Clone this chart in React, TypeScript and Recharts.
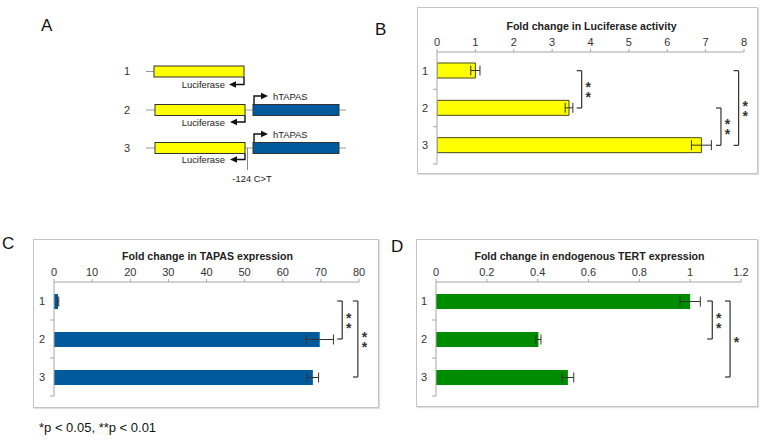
import { BarChart, Bar, XAxis, YAxis, ErrorBar, ReferenceLine } from 'recharts';

const rows = ['1', '2', '3'];

// B: luciferase reporter activity
const lucValues = [1, 3.44, 6.89];
const lucErrors = [0.12, 0.1, 0.26];
const lucTicks = [0, 1, 2, 3, 4, 5, 6, 7, 8];
const lucBrackets = [
  { at: 3.77, from: '1', to: '2', mark: '**' },
  { at: 7.4, from: '2', to: '3', mark: '**' },
  { at: 7.86, from: '1', to: '3', mark: '**' },
];

// C: TAPAS expression
const tapasValues = [1.05, 69.7, 67.9];
const tapasErrors = [0.2, 3.6, 1.5];
const tapasTicks = [0, 10, 20, 30, 40, 50, 60, 70, 80];
const tapasBrackets = [
  { at: 75.6, from: '1', to: '2', mark: '**' },
  { at: 79.7, from: '1', to: '3', mark: '**' },
];

// D: endogenous TERT expression
const tertValues = [1.0, 0.403, 0.519];
const tertErrors = [0.04, 0.01, 0.023];
const tertTicks = [0, 0.2, 0.4, 0.6, 0.8, 1, 1.2];
const tertBrackets = [
  { at: 1.087, from: '1', to: '2', mark: '**' },
  { at: 1.157, from: '1', to: '3', mark: '*' },
];

const FONT = '"Liberation Sans", Arial, sans-serif';
const AXIS = '#a6a6a6';
const INK = '#333';

type Bracket = { at: number; from: string; to: string; mark: string };

type PanelProps = {
  box: { left: number; top: number; width: number; height: number };
  plot: { x0: number; x1: number; y0: number; y1: number };
  title: string;
  values: number[];
  errors: number[];
  ticks: number[];
  fill: string;
  stroke?: string;
  brackets: Bracket[];
  cap: number;
};

// significance stars stacked vertically beside a bracket
function Stars({ viewBox, mark }: any) {
  const cx = viewBox.x + 6.5;
  const cy = viewBox.y + viewBox.height / 2;
  const fs = 14;
  const chars = mark.split('');
  const step = 10;
  const start = cy - ((chars.length - 1) * step) / 2 + fs * 0.55;
  return (
    <text textAnchor="middle" fontSize={fs} fontWeight="bold" fill={INK} fontFamily={FONT}>
      {chars.map((c: string, i: number) => (
        <tspan key={i} x={cx} y={start + i * step}>
          {c}
        </tspan>
      ))}
    </text>
  );
}

function Panel({ box, plot, title, values, errors, ticks, fill, stroke, brackets, cap }: PanelProps) {
  const data = rows.map((name, i) => ({ name, value: values[i], err: errors[i] }));
  const axisH = 30;
  const band = (plot.y1 - plot.y0) / rows.length;
  const margin = {
    top: plot.y0 - box.top - axisH,
    right: box.left + box.width - plot.x1,
    bottom: box.top + box.height - plot.y1,
    left: 0,
  };

  const RowTick = (p: any) => (
    <g>
      <text x={p.x} y={p.y} dy={4} textAnchor="end" fontSize={11} fill={INK} fontFamily={FONT}>
        {p.payload.value}
      </text>
      <line x1={p.x + 5} x2={p.x + 9} y1={p.y + band / 2} y2={p.y + band / 2} stroke={AXIS} />
    </g>
  );

  return (
    <div
      style={{
        position: 'absolute',
        left: box.left,
        top: box.top,
        width: box.width,
        height: box.height,
        boxSizing: 'border-box',
        border: '1px solid #c4c4c4',
        boxShadow: '1px 1px 1px #e0e0e0',
      }}
    >
      <div
        style={{
          position: 'absolute',
          left: plot.x0 - box.left - 40,
          width: plot.x1 - plot.x0 + 80,
          top: plot.y0 - box.top - 27 - 8,
          lineHeight: '16px',
          textAlign: 'center',
          fontFamily: FONT,
          fontWeight: 'bold',
          fontSize: 10.6,
          color: '#222',
        }}
      >
        {title}
      </div>
      <div style={{ position: 'absolute', left: -1, top: -1 }}>
        <BarChart width={box.width} height={box.height} data={data} layout="vertical" margin={margin}>
          <XAxis
            type="number"
            orientation="top"
            domain={[ticks[0], ticks[ticks.length - 1]]}
            ticks={ticks}
            height={axisH}
            interval={0}
            tickSize={3}
            tickMargin={3}
            stroke={AXIS}
            tick={{ fontSize: 11, fill: INK, fontFamily: FONT }}
            allowDataOverflow
          />
          <YAxis
            type="category"
            dataKey="name"
            width={plot.x0 - box.left}
            tickSize={0}
            tickMargin={9}
            stroke={AXIS}
            tick={RowTick}
          />
          <Bar dataKey="value" fill={fill} stroke={stroke} strokeWidth={stroke ? 1 : 0} barSize={15} isAnimationActive={false}>
            <ErrorBar dataKey="err" direction="x" width={5} stroke={INK} strokeWidth={1} />
          </Bar>
          {brackets.map((b, i) => (
            <ReferenceLine
              key={`v${i}`}
              segment={[
                { x: b.at, y: b.from },
                { x: b.at, y: b.to },
              ]}
              stroke={INK}
              strokeWidth={1.2}
              label={(p: any) => <Stars {...p} mark={b.mark} />}
            />
          ))}
          {brackets.map((b, i) => (
            <ReferenceLine
              key={`t${i}a`}
              segment={[
                { x: b.at - cap, y: b.from },
                { x: b.at, y: b.from },
              ]}
              stroke={INK}
              strokeWidth={1.2}
            />
          ))}
          {brackets.map((b, i) => (
            <ReferenceLine
              key={`t${i}b`}
              segment={[
                { x: b.at - cap, y: b.to },
                { x: b.at, y: b.to },
              ]}
              stroke={INK}
              strokeWidth={1.2}
            />
          ))}
        </BarChart>
      </div>
    </div>
  );
}

function LeftArrow({ x, yTop, yArrow }: { x: number; yTop: number; yArrow: number }) {
  return (
    <g>
      <path d={`M${x},${yTop} L${x},${yArrow} L${x - 9},${yArrow}`} stroke="#111" strokeWidth={1.4} fill="none" />
      <polygon points={`${x - 15},${yArrow} ${x - 8},${yArrow - 3.2} ${x - 8},${yArrow + 3.2}`} fill="#111" />
    </g>
  );
}

function RightArrow({ x, yBottom, yArrow }: { x: number; yBottom: number; yArrow: number }) {
  return (
    <g>
      <path d={`M${x},${yBottom} L${x},${yArrow} L${x + 8},${yArrow}`} stroke="#111" strokeWidth={1.4} fill="none" />
      <polygon points={`${x + 14},${yArrow} ${x + 7},${yArrow - 3.2} ${x + 7},${yArrow + 3.2}`} fill="#111" />
    </g>
  );
}

function Schematic() {
  const yellow = '#ffff00';
  const blue = '#005a9c';
  const txt = { fontFamily: FONT, fontSize: 9.4, fill: '#222' };
  return (
    <svg width={390} height={200} style={{ position: 'absolute', left: 0, top: 0 }}>
      {/* row 1 */}
      <text x={127} y={75} textAnchor="middle" fontSize={11} fill={INK} fontFamily={FONT}>1</text>
      <line x1={146} x2={154} y1={71.5} y2={71.5} stroke="#999" />
      <rect x={154} y={66} width={90} height={11} fill={yellow} stroke={INK} />
      <LeftArrow x={244} yTop={77} yArrow={84.5} />
      <text x={225} y={88} textAnchor="end" {...txt}>Luciferase</text>

      {/* row 2 */}
      <text x={127} y={114} textAnchor="middle" fontSize={11} fill={INK} fontFamily={FONT}>2</text>
      <line x1={146} x2={346} y1={110} y2={110} stroke="#999" />
      <rect x={155} y={104.5} width={90} height={11} fill={yellow} stroke={INK} />
      <rect x={253} y={104.5} width={86} height={11} fill={blue} stroke={INK} />
      <RightArrow x={254} yBottom={104.5} yArrow={96} />
      <text x={273} y={99.5} {...txt}>hTAPAS</text>
      <LeftArrow x={245} yTop={115.5} yArrow={122} />
      <text x={225} y={125.5} textAnchor="end" {...txt}>Luciferase</text>

      {/* row 3 */}
      <text x={127} y={152} textAnchor="middle" fontSize={11} fill={INK} fontFamily={FONT}>3</text>
      <line x1={146} x2={346} y1={148} y2={148} stroke="#999" />
      <rect x={155} y={142.5} width={90} height={11} fill={yellow} stroke={INK} />
      <rect x={253} y={142.5} width={86} height={11} fill={blue} stroke={INK} />
      <RightArrow x={254} yBottom={142.5} yArrow={134} />
      <text x={273} y={137.5} {...txt}>hTAPAS</text>
      <LeftArrow x={245} yTop={153.5} yArrow={159.5} />
      <text x={225} y={163} textAnchor="end" {...txt}>Luciferase</text>
      <line x1={247.5} x2={247.5} y1={148} y2={170} stroke="#888" />
      <text x={252} y={182} textAnchor="middle" {...txt}>-124 C&gt;T</text>
    </svg>
  );
}

const letter = (x: number, y: number, s: string) => (
  <div
    style={{
      position: 'absolute',
      left: x,
      top: y,
      fontFamily: FONT,
      fontSize: 17,
      lineHeight: '17px',
      color: '#111',
    }}
  >
    {s}
  </div>
);

export default function App() {
  return (
    <div style={{ position: 'absolute', left: 0, top: 0, width: 763, height: 444, background: '#fff', overflow: 'hidden' }}>
      <Schematic />
      {letter(41, 17, 'A')}
      {letter(375, 21, 'B')}
      {letter(2, 235, 'C')}
      {letter(391, 238, 'D')}

      <Panel
        box={{ left: 417, top: 7, width: 341, height: 167 }}
        plot={{ x0: 437, x1: 744, y0: 52, y1: 164 }}
        title="Fold change in Luciferase activity"
        values={lucValues}
        errors={lucErrors}
        ticks={lucTicks}
        fill="#ffff00"
        stroke="#4a4a1a"
        brackets={lucBrackets}
        cap={0.13}
      />
      <Panel
        box={{ left: 33, top: 239, width: 346, height: 169 }}
        plot={{ x0: 54, x1: 359, y0: 282, y1: 396 }}
        title="Fold change in TAPAS expression"
        values={tapasValues}
        errors={tapasErrors}
        ticks={tapasTicks}
        fill="#005a9c"
        brackets={tapasBrackets}
        cap={1.3}
      />
      <Panel
        box={{ left: 416, top: 239, width: 342, height: 168 }}
        plot={{ x0: 436, x1: 741, y0: 282, y1: 396 }}
        title="Fold change in endogenous TERT expression"
        values={tertValues}
        errors={tertErrors}
        ticks={tertTicks}
        fill="#008c00"
        brackets={tertBrackets}
        cap={0.02}
      />

      <div style={{ position: 'absolute', left: 39, top: 420, fontFamily: FONT, fontSize: 13, color: '#111' }}>
        *p &lt; 0.05, **p &lt; 0.01
      </div>
    </div>
  );
}
